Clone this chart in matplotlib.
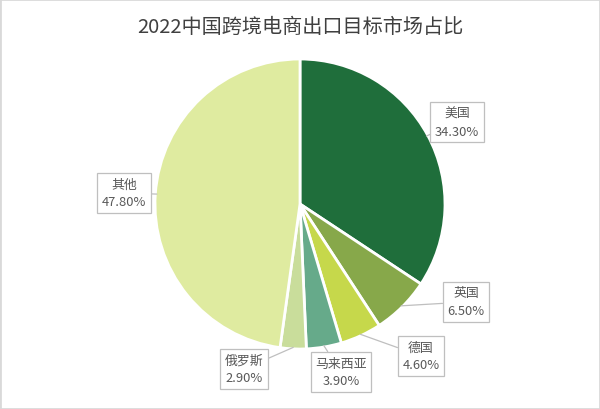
import numpy as np
import matplotlib
matplotlib.use('Agg')
import matplotlib.pyplot as plt
from matplotlib.patches import Rectangle

plt.rcParams['font.family'] = ['Noto Sans CJK SC', 'DejaVu Sans']

# data
countries = ['美国', '英国', '德国', '马来西亚', '俄罗斯', '其他']
shares = [34.30, 6.50, 4.60, 3.90, 2.90, 47.80]
colors = ['#1f6e3b', '#87a84a', '#c6d84b', '#66aa8a', '#c9dd9b', '#dfeba0']

# label box centres in pixels (x, y from top)
label_pos = [(457, 123), (466, 303), (421, 357), (341, 373), (244, 370), (124, 194)]

W, H = 600, 410
fig = plt.figure(figsize=(6, 4.1), dpi=100)
ax = fig.add_axes([0, 0, 1, 1])

cx, cy, r = 300, H - 205, 145
wedges, _ = ax.pie(shares, colors=colors, startangle=90, counterclock=False,
                   center=(cx, cy), radius=r, frame=True,
                   wedgeprops=dict(edgecolor='white', linewidth=2))
ax.set_xlim(0, W)
ax.set_ylim(0, H)
ax.set_aspect('equal')
ax.axis('off')

# labels with leader lines
for w, name, val, (lx, ly) in zip(wedges, countries, shares, label_pos):
    ang = np.deg2rad((w.theta1 + w.theta2) / 2)
    px = cx + r * 0.99 * np.cos(ang)
    py = cy + r * 0.99 * np.sin(ang)
    ax.annotate(f'{name}\n{val:.2f}%', xy=(px, py), xytext=(lx, H - ly),
                ha='center', va='center', fontsize=9.3, color='#595959',
                linespacing=1.5,
                bbox=dict(boxstyle='square,pad=0.35', fc='white', ec='#bfbfbf', lw=0.9),
                arrowprops=dict(arrowstyle='-', color='#bfbfbf', lw=0.9,
                                shrinkA=0, shrinkB=0))

fig.text(0.5, 1 - 27 / H, '2022中国跨境电商出口目标市场占比', ha='center', va='center',
         fontsize=14.5, color='#404040')

fig.patches.append(Rectangle((0, 0), 1, 1, transform=fig.transFigure, fill=False,
                             ec='#d9d9d9', lw=2))

fig.savefig('out.png', dpi=100)
